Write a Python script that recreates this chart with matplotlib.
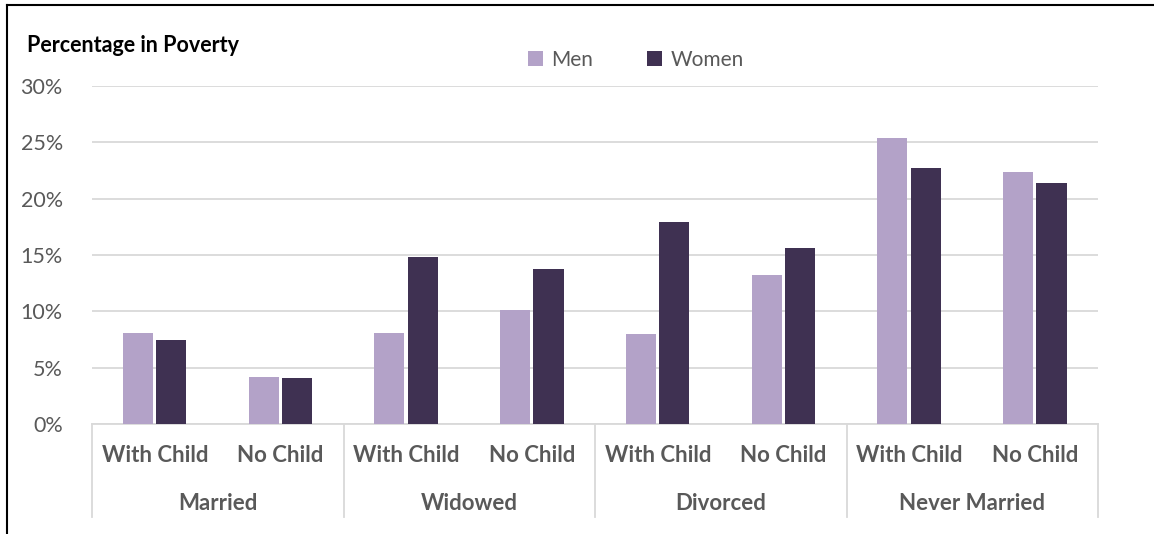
import numpy as np
import matplotlib
matplotlib.use("Agg")
import matplotlib.pyplot as plt
import matplotlib.transforms as mtransforms

# data
groups = ["Married", "Widowed", "Divorced", "Never Married"]
subcats = ["With Child", "No Child"]
men = [8.1, 4.2, 8.1, 10.1, 8.0, 13.2, 25.4, 22.4]
women = [7.5, 4.1, 14.8, 13.8, 17.9, 15.6, 22.7, 21.4]
yticks = [0, 5, 10, 15, 20, 25, 30]

men_col = "#b3a2c8"
women_col = "#3f3152"
grey_txt = "#595959"
grid_col = "#d9d9d9"

plt.rcParams["font.family"] = ["Lato", "DejaVu Sans"]

fig = plt.figure(figsize=(11.54, 5.34), dpi=100)
ax = fig.add_axes([92 / 1154, 1 - 424 / 534, 1006 / 1154, 338 / 534])

x = np.arange(len(men))
w = 0.24
ax.bar(x - 0.135, np.array(men) / 100, w, color=men_col, label="Men", zorder=3)
ax.bar(x + 0.13, np.array(women) / 100, w, color=women_col, label="Women", zorder=3)

ax.set_xlim(-0.5, len(men) - 0.5)
ax.set_ylim(0, 0.30)
ax.set_yticks([v / 100 for v in yticks])
ax.set_yticklabels([f"{v}%" for v in yticks], color=grey_txt, fontsize=15.5)
ax.tick_params(axis="y", length=0, pad=21)
ax.yaxis.grid(True, color=grid_col, linewidth=1.3, zorder=0)

ax.set_xticks(x)
ax.set_xticklabels(subcats * len(groups), color=grey_txt, fontsize=16, fontweight="bold")
ax.tick_params(axis="x", length=0, pad=15)

for s in ["top", "right", "left"]:
    ax.spines[s].set_visible(False)
ax.spines["bottom"].set_color(grid_col)
ax.spines["bottom"].set_linewidth(1.3)

# multi-level category axis
trans = mtransforms.blended_transform_factory(ax.transData, ax.transAxes)
for b in np.arange(-0.5, len(men), 2):
    ax.plot([b, b], [0, -93 / 338], color=grid_col, linewidth=1.3,
            transform=trans, clip_on=False)
for i, g in enumerate(groups):
    ax.text(2 * i + 0.5, -79 / 338, g, transform=trans, ha="center", va="center",
            color=grey_txt, fontsize=16, fontweight="bold")

fig.text(27 / 1154, 1 - 46 / 534, "Percentage in Poverty", fontsize=15.5,
         fontweight="bold", color="black", va="center", ha="left")

ax.legend(loc="center", bbox_to_anchor=(636 / 1154, 1 - 60 / 534),
          bbox_transform=fig.transFigure, ncol=2, frameon=False, fontsize=15,
          handlelength=0.7, handleheight=0.7, columnspacing=2.6,
          handletextpad=0.4, labelcolor=grey_txt)

# outer frame (top and left edges only, as in the reference)
fig.add_artist(plt.Line2D([7 / 1154, 1], [1 - 5 / 534, 1 - 5 / 534],
                          transform=fig.transFigure, color="black", linewidth=1.5))
fig.add_artist(plt.Line2D([7 / 1154, 7 / 1154], [0, 1 - 5 / 534],
                          transform=fig.transFigure, color="black", linewidth=1.5))

fig.savefig("out.png", dpi=100)
